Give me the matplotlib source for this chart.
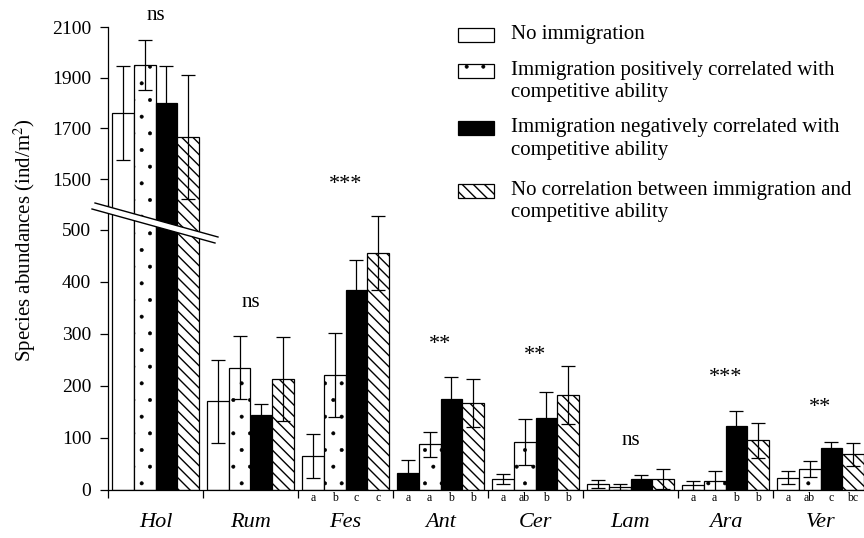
import numpy as np
import matplotlib
matplotlib.use('Agg')
from matplotlib import pyplot as plt
from matplotlib.patches import Rectangle, Polygon
from matplotlib.lines import Line2D

plt.rcParams['font.family'] = ['Liberation Serif', 'DejaVu Serif']
plt.rcParams['hatch.linewidth'] = 1.0
plt.rcParams['mathtext.fontset'] = 'stix'

# Mean abundances (ind/m2) and standard errors per treatment
species = ['Hol', 'Rum', 'Fes', 'Ant', 'Cer', 'Lam', 'Ara', 'Ver']
no_imm = [1760, 170, 64, 32, 20, 10, 8, 23]
no_imm_se = [185, 80, 42, 25, 10, 8, 8, 13]
pos_corr = [1950, 235, 220, 87, 92, 5, 16, 40]
pos_corr_se = [100, 61, 81, 24, 44, 5, 20, 15]
neg_corr = [1800, 144, 384, 174, 137, 20, 123, 80]
neg_corr_se = [145, 21, 58, 43, 51, 8, 29, 12]
no_corr = [1665, 212, 456, 166, 182, 20, 95, 68]
no_corr_se = [245, 81, 71, 46, 56, 19, 34, 22]

treatments = ['No immigration',
              'Immigration positively correlated with\ncompetitive ability',
              'Immigration negatively correlated with\ncompetitive ability',
              'No correlation between immigration and\ncompetitive ability']

# significance of the treatment effect per species, and post-hoc letters
signif = ['ns', 'ns', '***', '**', '**', 'ns', '***', '**']
signif_y = [2147, 361, 587, 279, 259, 95, 215, 157]
letters = {'Fes': ['a', 'b', 'c', 'c'],
           'Ant': ['a', 'a', 'b', 'b'],
           'Cer': ['a', 'ab', 'b', 'b'],
           'Ara': ['a', 'a', 'b', 'b'],
           'Ver': ['a', 'ab', 'c', 'bc']}

means = [no_imm, pos_corr, neg_corr, no_corr]
errs = [no_imm_se, pos_corr_se, neg_corr_se, no_corr_se]
faces = ['white', 'white', 'black', 'white']
hatches = [None, '.', None, '\\\\\\']
hatch_lw = [1.0, 0.4, 1.0, 1.0]

W, H = 864, 538
fig = plt.figure(figsize=(W / 100, H / 100), dpi=100)

def px(x, y):
    return x / W, 1 - y / H

left = 108 / W
xmax = (W - 108) / 95
ax_lo = fig.add_axes([left, 1 - 489.5 / H, 1 - left, 285 / H])
ax_hi = fig.add_axes([left, 1 - 204.5 / H, 1 - left, 177.5 / H])

bw = 0.228
x = np.arange(len(species))
for ax in (ax_lo, ax_hi):
    for k in range(4):
        pos = x + 0.5 + (k - 1.5) * bw
        fc = [faces[k]] * len(species)
        if k == 0:
            fc[species.index('Ant')] = 'black'
        with plt.rc_context({'hatch.linewidth': hatch_lw[k]}):
            ax.bar(pos, means[k], width=bw, color=fc, edgecolor='black',
                   linewidth=0.9, hatch=hatches[k], zorder=2)
        ax.errorbar(pos, means[k], yerr=errs[k], fmt='none', ecolor='black',
                    elinewidth=0.9, capsize=5, capthick=0.9, zorder=3)
    ax.set_xlim(0, xmax)
    for s in ('top', 'right'):
        ax.spines[s].set_visible(False)
    ax.spines['left'].set_linewidth(0.9)
    ax.tick_params(axis='y', direction='out', length=6, width=0.9,
                   labelsize=14, pad=6)

ax_lo.set_ylim(0, 549)
ax_lo.set_yticks(np.arange(0, 501, 100))
ax_lo.set_xticks(np.arange(0, 8))
ax_lo.set_xticklabels([])
ax_lo.tick_params(axis='x', direction='out', length=6, width=0.9)
ax_lo.spines['bottom'].set_linewidth(0.9)

ax_hi.set_ylim(1400, 2100)
ax_hi.set_yticks([1500, 1700, 1900, 2100])
ax_hi.spines['bottom'].set_visible(False)
ax_hi.set_xticks([])
ax_hi.patch.set_visible(False)

# species names and post-hoc letters under the axis
trans = ax_lo.get_xaxis_transform()
for i, sp in enumerate(species):
    ax_lo.text(i + 0.5, -0.115, sp, transform=trans, ha='center', va='center',
               fontsize=16, style='italic')
    if sp in letters:
        for k, lab in enumerate(letters[sp]):
            ax_lo.text(i + 0.5 + (k - 1.5) * bw, -0.03, lab, transform=trans,
                       ha='center', va='center', fontsize=8.5)

for i, s in enumerate(signif):
    target = ax_hi if i == 0 else ax_lo
    target.text(i + 0.5, signif_y[i], s, ha='center', va='center',
                fontsize=15 if s == 'ns' else 16, clip_on=False)

fig.text(0.029, 0.554, 'Species abundances (ind/m$^2$)', rotation=90,
         ha='center', va='center', fontsize=15)

# axis break: white band with two parallel strokes
band = Polygon([px(95, 203), px(218, 237), px(215, 243), px(92, 209)],
               closed=True, transform=fig.transFigure, facecolor='white',
               edgecolor='none', zorder=5)
fig.add_artist(band)
for (xa, ya), (xb, yb) in [((95, 203), (218, 237)), ((92, 209), (215, 243))]:
    (x0, y0), (x1, y1) = px(xa, ya), px(xb, yb)
    fig.add_artist(Line2D([x0, x1], [y0, y1], transform=fig.transFigure,
                          color='black', linewidth=1.0, zorder=6))

# legend drawn by hand so the swatch sits on the first text line
rows_y = [35, 71, 128, 191]
for k, lab in enumerate(treatments):
    x0, y0 = px(458, rows_y[k] + 7)
    w, h = 36 / W, 14 / H
    with plt.rc_context({'hatch.linewidth': hatch_lw[k]}):
        sw = Rectangle((x0, y0), w, h, transform=fig.transFigure,
                       facecolor=faces[k], edgecolor='black',
                       linewidth=0.9, hatch=hatches[k])
    fig.add_artist(sw)
    tx, ty = px(511, rows_y[k] - 10)
    fig.text(tx, ty, lab, ha='left', va='top', fontsize=15, linespacing=1.25)

fig.savefig('out.png', dpi=100)
